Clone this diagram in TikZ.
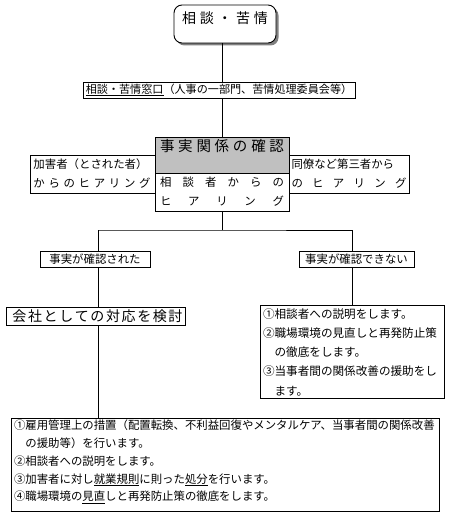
\documentclass[tikz,border=0pt]{standalone}
\usepackage{fontspec}
\setmainfont{Noto Sans CJK JP}
\definecolor{silver}{RGB}{192,192,192}
\definecolor{shadowgray}{RGB}{128,128,128}
\newcommand{\spr}[2]{\makebox[#1][s]{#2}}
\begin{document}
\begin{tikzpicture}[x=1bp,y=-1bp,
  box/.style={draw,line width=0.9bp,inner sep=0pt,outer sep=0pt,anchor=north west},
  small/.style={font=\fontsize{11.4bp}{18bp}\selectfont},
  conn/.style={line width=0.9bp},
  txt/.style={inner sep=0pt,outer sep=0pt}]
\useasboundingbox (0,0) rectangle (450,522);
% top rounded box with shadow
\fill[shadowgray,rounded corners=8bp] (176.5,7.5) rectangle (278.5,45.5);
\node[box,rounded corners=8bp,fill=white,minimum width=102bp,minimum height=38bp] (top) at (174,5) {};
\node[txt,font=\fontsize{14bp}{14bp}\selectfont] (toptxt) at (225,18) {\spr{86bp}{相\hfill 談\hfill ・\hfill 苦\hfill 情}};
% window
\node[box,minimum width=272bp,minimum height=16bp,font=\fontsize{11.1bp}{14bp}\selectfont] (window) at (83,82) {\underline{相談・苦情窓口}（人事の一部門、苦情処理委員会等）};
% fact confirmation
\node[box,fill=silver,minimum width=134bp,minimum height=36bp] (confirm) at (155,137) {};
\node[txt,font=\fontsize{14.5bp}{15bp}\selectfont] (confirmtxt) at (222,146) {\spr{124bp}{事\hfill 実\hfill 関\hfill 係\hfill の\hfill 確\hfill 認}};
\node[box,minimum width=134bp,minimum height=38bp] (victim) at (155,173) {};
\node[txt,small] (victimtxt1) at (222,182.5) {\spr{124bp}{相\hfill 談\hfill 者\hfill か\hfill ら\hfill の}};
\node[txt,small] (victimtxt2) at (222,201.5) {\spr{124bp}{ヒ\hfill ア\hfill リ\hfill ン\hfill グ}};
\node[box,minimum width=125bp,minimum height=38bp] (accused) at (30,155) {};
\node[txt,small] (accusedtxt1) at (92,164.5) {\spr{117bp}{加害者（とされた者）}};
\node[txt,small] (accusedtxt2) at (92,183.5) {\spr{117bp}{か\hfill ら\hfill の\hfill ヒ\hfill ア\hfill リ\hfill ン\hfill グ}};
\node[box,minimum width=120bp,minimum height=38bp] (third) at (289,155) {};
\node[txt,small] (thirdtxt1) at (349,164.5) {\spr{115bp}{同僚など第三者から}};
\node[txt,small] (thirdtxt2) at (349,183.5) {\spr{115bp}{の\hfill ヒ\hfill ア\hfill リ\hfill ン\hfill グ}};
% results
\node[box,small,minimum width=110bp,minimum height=16bp] (yes) at (40,251) {事実が確認された};
\node[box,small,minimum width=115bp,minimum height=16bp] (no) at (299,251) {事実が確認できない};
\node[box,minimum width=179bp,minimum height=18bp] (company) at (6,307) {};
\node[txt,font=\fontsize{14bp}{14bp}\selectfont] (companytxt) at (97.5,316) {\spr{170bp}{会\hfill 社\hfill と\hfill し\hfill て\hfill の\hfill 対\hfill 応\hfill を\hfill 検\hfill 討}};
\node[box,minimum width=184bp,minimum height=93bp] (rbox) at (260,305) {};
\node[txt,small,anchor=north west,align=left,font=\fontsize{11.6bp}{19.2bp}\selectfont] (rboxtxt) at (263,308.5) {①相談者への説明をします。\\②職場環境の見直しと再発防止策\\\hspace*{1em}の徹底をします。\\③当事者間の関係改善の援助をし\\\hspace*{1em}ます。};
\node[box,minimum width=428bp,minimum height=93bp] (bbox) at (11,418) {};
\node[txt,anchor=north west,align=left,font=\fontsize{11.4bp}{17.8bp}\selectfont] (bboxtxt) at (14,420) {①雇用管理上の措置（配置転換、不利益回復やメンタルケア、当事者間の関係改善\\\hspace*{1em}の援助等）を行います。\\②相談者への説明をします。\\③加害者に対し\underline{就業規則}に則った\underline{処分}を行います。\\④職場環境の\underline{見直}しと再発防止策の徹底をします。};
% connectors
\coordinate (split) at (222,230);
\coordinate (lx) at (98,230);
\coordinate (rx) at (352,230);
\draw[conn] (top.south -| split) -- (window.north -| split);
\draw[conn] (window.south -| split) -- (confirm.north -| split);
\draw[conn] (victim.south -| split) -- (split);
\draw[conn] (lx) -- (split) -- (rx);
\draw[conn] (lx) -- (lx |- yes.north);
\draw[conn] (rx) -- (rx |- no.north);
\draw[conn] (lx |- yes.south) -- (lx |- company.north);
\draw[conn] (rx |- no.south) -- (rx |- rbox.north);
\draw[conn] (lx |- company.south) -- (lx |- bbox.north);
\end{tikzpicture}
\end{document}
